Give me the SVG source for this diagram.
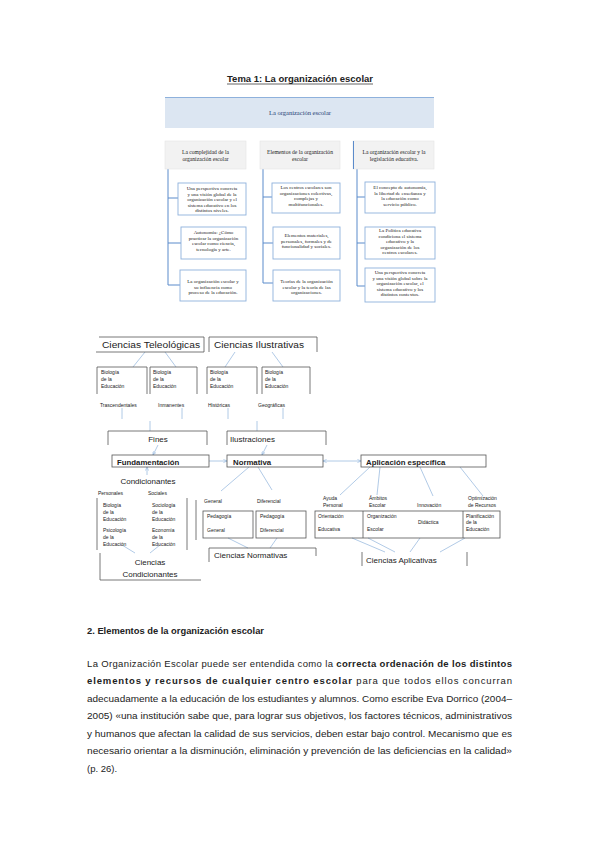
<svg xmlns="http://www.w3.org/2000/svg" width="599" height="848" viewBox="0 0 599 848">
<style>
.bg{fill:#ffffff}
.ser{font-family:"Liberation Serif","DejaVu Serif",serif;fill:#222}
.sans{font-family:"Liberation Sans","DejaVu Sans",sans-serif;fill:#222}
.hdr{fill:#f2f2f2;stroke:#e4e4e4;stroke-width:0.6}
.ibox{fill:#ffffff;stroke:#8eb1dc;stroke-width:0.9}
.tree{stroke:#5b8bcb;stroke-width:1;fill:none}
.frame{fill:none;stroke:#555;stroke-width:0.8}
.lc{stroke:#9dbde0;stroke-width:0.8;fill:none}
.tiny{font-size:5px}
.sm{font-size:5.6px}
</style>
<defs>
<marker id="ah" viewBox="0 0 10 10" refX="9" refY="5" markerWidth="5" markerHeight="5" orient="auto-start-reverse">
<path d="M0,1 L9,5 L0,9" fill="none" stroke="#8fb3dd" stroke-width="1.5"/>
</marker>
</defs>
<rect class="bg" x="0" y="0" width="599" height="848"/>

<g id="title">
<text class="sans" x="300" y="82" text-anchor="middle" font-size="9.5" font-weight="bold" textLength="146" lengthAdjust="spacingAndGlyphs">Tema 1: La organización escolar</text>
<line x1="227" y1="84" x2="373" y2="84" stroke="#222" stroke-width="0.7"/>
</g>

<g id="banner">
<rect x="165" y="97" width="269" height="31" fill="#dce6f2"/>
<line x1="165" y1="97.5" x2="434" y2="97.5" stroke="#8eb1dc" stroke-width="1"/>
<text class="ser" x="300" y="115" text-anchor="middle" font-size="6.5" style="fill:#1f3f73">La organización escolar</text>
</g>

<g id="tree-connectors">
<path class="tree" d="M168,169 V285 M168,198 H178 M168,243 H181 M168,285 H180"/>
<path class="tree" d="M263,169 V283 M263,197 H272 M263,243 H273 M263,283 H273"/>
<path class="tree" d="M357,169 V286 M357,197 H365 M357,243 H365 M357,286 H365"/>
</g>

<g id="col1-header">
<rect class="hdr" x="165" y="141" width="81" height="28"/>
<text class="ser sm" x="205.5" y="154" text-anchor="middle">La complejidad de la</text>
<text class="ser sm" x="205.5" y="161" text-anchor="middle">organización escolar</text>
</g>
<g id="col2-header">
<rect class="hdr" x="260" y="141" width="80" height="28"/>
<text class="ser sm" x="300" y="154" text-anchor="middle">Elementos de la organización</text>
<text class="ser sm" x="300" y="161" text-anchor="middle">escolar</text>
</g>
<g id="col3-header">
<rect class="hdr" x="353" y="141" width="81" height="28"/>
<line x1="353.5" y1="141" x2="353.5" y2="169" stroke="#5b8bcb" stroke-width="1"/>
<text class="ser sm" x="394" y="154" text-anchor="middle">La organización escolar y la</text>
<text class="ser sm" x="394" y="161" text-anchor="middle">legislación educativa.</text>
</g>

<g id="c1b1">
<rect class="ibox" x="178" y="183" width="68" height="32"/>
<text class="ser tiny" x="212" y="190" text-anchor="middle">Una perspectiva concreta</text>
<text class="ser tiny" x="212" y="195.5" text-anchor="middle">y una visión global de la</text>
<text class="ser tiny" x="212" y="201" text-anchor="middle">organización escolar y el</text>
<text class="ser tiny" x="212" y="206.5" text-anchor="middle">sistema educativo en los</text>
<text class="ser tiny" x="212" y="212" text-anchor="middle">distintos niveles.</text>
</g>
<g id="c1b2">
<rect class="ibox" x="181" y="227" width="65" height="32"/>
<text class="ser tiny" x="213.5" y="234" text-anchor="middle">Autonomía: ¿Cómo</text>
<text class="ser tiny" x="213.5" y="239.5" text-anchor="middle">practicar la organización</text>
<text class="ser tiny" x="213.5" y="245" text-anchor="middle">escolar como ciencia,</text>
<text class="ser tiny" x="213.5" y="250.5" text-anchor="middle">tecnología y arte.</text>
</g>
<g id="c1b3">
<rect class="ibox" x="180" y="270" width="66" height="31"/>
<text class="ser tiny" x="213" y="283" text-anchor="middle">La organización escolar y</text>
<text class="ser tiny" x="213" y="288.5" text-anchor="middle">su influencia como</text>
<text class="ser tiny" x="213" y="294" text-anchor="middle">proceso de la educación.</text>
</g>

<g id="c2b1">
<rect class="ibox" x="272" y="183" width="68" height="30"/>
<text class="ser tiny" x="306" y="189" text-anchor="middle">Los centros escolares son</text>
<text class="ser tiny" x="306" y="194.5" text-anchor="middle">organizaciones colectivas,</text>
<text class="ser tiny" x="306" y="200" text-anchor="middle">complejas y</text>
<text class="ser tiny" x="306" y="205.5" text-anchor="middle">multifuncionales.</text>
</g>
<g id="c2b2">
<rect class="ibox" x="273" y="227" width="67" height="32"/>
<text class="ser tiny" x="306.5" y="237" text-anchor="middle">Elementos materiales,</text>
<text class="ser tiny" x="306.5" y="242.5" text-anchor="middle">personales, formales y de</text>
<text class="ser tiny" x="306.5" y="248" text-anchor="middle">funcionalidad y sociales.</text>
</g>
<g id="c2b3">
<rect class="ibox" x="273" y="270" width="67" height="31"/>
<text class="ser tiny" x="306.5" y="283" text-anchor="middle">Teorías de la organización</text>
<text class="ser tiny" x="306.5" y="288.5" text-anchor="middle">escolar y la teoría de las</text>
<text class="ser tiny" x="306.5" y="294" text-anchor="middle">organizaciones.</text>
</g>

<g id="c3b1">
<rect class="ibox" x="365" y="182" width="70" height="31"/>
<text class="ser tiny" x="400" y="189" text-anchor="middle">El concepto de autonomía,</text>
<text class="ser tiny" x="400" y="194.5" text-anchor="middle">la libertad de enseñanza y</text>
<text class="ser tiny" x="400" y="200" text-anchor="middle">la educación como</text>
<text class="ser tiny" x="400" y="205.5" text-anchor="middle">servicio público.</text>
</g>
<g id="c3b2">
<rect class="ibox" x="365" y="227" width="70" height="32"/>
<text class="ser tiny" x="400" y="232" text-anchor="middle">La Política educativa</text>
<text class="ser tiny" x="400" y="237.5" text-anchor="middle">condiciona el sistema</text>
<text class="ser tiny" x="400" y="243" text-anchor="middle">educativo y la</text>
<text class="ser tiny" x="400" y="248.5" text-anchor="middle">organización de los</text>
<text class="ser tiny" x="400" y="254" text-anchor="middle">centros escolares.</text>
</g>
<g id="c3b3">
<rect class="ibox" x="365" y="268" width="70" height="34"/>
<text class="ser tiny" x="400" y="274" text-anchor="middle">Una perspectiva concreta</text>
<text class="ser tiny" x="400" y="279.5" text-anchor="middle">y una visión global sobre la</text>
<text class="ser tiny" x="400" y="285" text-anchor="middle">organización escolar, el</text>
<text class="ser tiny" x="400" y="290.5" text-anchor="middle">sistema educativo y los</text>
<text class="ser tiny" x="400" y="296" text-anchor="middle">distintos contextos.</text>
</g>

<g id="connectors">
<path class="lc" d="M145,352 L133,367 M165,352 L176,367 M235,352 L225,367 M272,352 L283,367"/>
<path class="lc" d="M122,408 V419 M150,421 V431 M182,408 V419 M228,408 V419 M257,421 V431 M283,408 V419"/>
<line class="lc" x1="158" y1="445" x2="153" y2="455" marker-end="url(#ah)"/>
<line class="lc" x1="267" y1="445" x2="262" y2="455" marker-end="url(#ah)"/>
<line class="lc" x1="209" y1="461" x2="227" y2="461" marker-end="url(#ah)"/>
<line class="lc" x1="323" y1="461" x2="361" y2="461" marker-start="url(#ah)" marker-end="url(#ah)"/>
<line class="lc" x1="147" y1="475" x2="147" y2="467" marker-end="url(#ah)"/>
<path class="lc" d="M249,467 L221,491 M258,467 L272,490"/>
<path class="lc" d="M370,467 L340,495 M380,467 L377,495 M420,467 L433,496 M460,467 L483,496"/>
<path class="lc" d="M228,538 L248,548 M277,538 L270,548"/>
<path class="lc" d="M352,538 L385,552 M368,538 L395,552 M420,538 L410,552 M465,538 L440,552"/>
<path class="lc" d="M122,545 L135,553 M160,545 L150,553"/>
</g>

<g id="teleologicas">
<path class="frame" d="M99,337 H204 V352 H96"/>
<text class="sans" x="102" y="348" font-size="8.5" textLength="98" lengthAdjust="spacingAndGlyphs">Ciencias Teleológicas</text>
</g>
<g id="ilustrativas">
<path class="frame" d="M209,352 V337 H317 V352"/>
<text class="sans" x="214" y="348" font-size="8.5" textLength="90" lengthAdjust="spacingAndGlyphs">Ciencias Ilustrativas</text>
</g>

<g id="bio1">
<path class="frame" d="M97,394 V367 H147 V394"/>
<text class="sans tiny" x="101" y="374">Biología</text>
<text class="sans tiny" x="101" y="381">de la</text>
<text class="sans tiny" x="101" y="388">Educación</text>
</g>
<g id="bio2">
<path class="frame" d="M150,394 V367 H197 V394"/>
<text class="sans tiny" x="153" y="374">Biología</text>
<text class="sans tiny" x="153" y="381">de la</text>
<text class="sans tiny" x="153" y="388">Educación</text>
</g>
<g id="bio3">
<path class="frame" d="M207,394 V367 H257 V394"/>
<text class="sans tiny" x="210" y="374">Biología</text>
<text class="sans tiny" x="210" y="381">de la</text>
<text class="sans tiny" x="210" y="388">Educación</text>
</g>
<g id="bio4">
<path class="frame" d="M262,394 V367 H310 V394"/>
<text class="sans tiny" x="265" y="374">Biología</text>
<text class="sans tiny" x="265" y="381">de la</text>
<text class="sans tiny" x="265" y="388">Educación</text>
</g>

<g id="labels-top">
<text class="sans tiny" x="100" y="407">Trascendentales</text>
<text class="sans tiny" x="158" y="407">Inmanentes</text>
<text class="sans tiny" x="208" y="407">Históricas</text>
<text class="sans tiny" x="258" y="407">Geográficas</text>
</g>

<g id="fines">
<path class="frame" d="M108,445 V431 H207 V445"/>
<text class="sans" x="158" y="441.5" font-size="8" text-anchor="middle">Fines</text>
</g>
<g id="ilustraciones">
<path class="frame" d="M227,445 V431 H326 V445"/>
<text class="sans" x="230" y="441.5" font-size="8">Ilustraciones</text>
</g>

<g id="fundamentacion">
<rect class="frame" x="112" y="455" width="97" height="12" style="fill:#fff"/>
<text class="sans" x="117" y="464.5" font-size="7.8" font-weight="bold">Fundamentación</text>
</g>
<g id="normativa">
<rect class="frame" x="227" y="455" width="96" height="12" style="fill:#fff"/>
<text class="sans" x="233" y="464.5" font-size="7.8" font-weight="bold">Normativa</text>
</g>
<g id="aplicacion">
<rect class="frame" x="361" y="455" width="125" height="12" style="fill:#fff"/>
<text class="sans" x="366" y="464.5" font-size="7.8" font-weight="bold">Aplicación específica</text>
</g>

<g id="condicionantes">
<text class="sans" x="148" y="484" font-size="8" text-anchor="middle">Condicionantes</text>
<text class="sans tiny" x="98" y="495">Personales</text>
<text class="sans tiny" x="148" y="495">Sociales</text>
<path class="frame" d="M97,498 V550 M187,498 V550"/>
<text class="sans tiny" x="103" y="507">Biología</text>
<text class="sans tiny" x="103" y="514">de la</text>
<text class="sans tiny" x="103" y="521">Educación</text>
<text class="sans tiny" x="103" y="532">Psicología</text>
<text class="sans tiny" x="103" y="539">de la</text>
<text class="sans tiny" x="103" y="546">Educación</text>
<text class="sans tiny" x="152" y="507">Sociología</text>
<text class="sans tiny" x="152" y="514">de la</text>
<text class="sans tiny" x="152" y="521">Educación</text>
<text class="sans tiny" x="152" y="532">Economía</text>
<text class="sans tiny" x="152" y="539">de la</text>
<text class="sans tiny" x="152" y="546">Educación</text>
</g>
<g id="ciencias-condicionantes">
<path class="frame" d="M100,553 V580 H201"/>
<text class="sans" x="150" y="565" font-size="8" text-anchor="middle">Ciencias</text>
<text class="sans" x="150" y="577" font-size="8" text-anchor="middle">Condicionantes</text>
</g>

<line class="frame" x1="196" y1="500" x2="196" y2="540"/>

<g id="normativas-labels">
<text class="sans tiny" x="204" y="503">General</text>
<text class="sans tiny" x="257" y="503">Diferencial</text>
</g>
<g id="ped-general">
<rect class="frame" x="203" y="511" width="50" height="27"/>
<text class="sans tiny" x="207" y="518">Pedagogía</text>
<text class="sans tiny" x="207" y="532">General</text>
</g>
<g id="ped-diferencial">
<rect class="frame" x="256" y="511" width="50" height="27"/>
<text class="sans tiny" x="260" y="518">Pedagogía</text>
<text class="sans tiny" x="260" y="532">Diferencial</text>
</g>
<g id="ciencias-normativas">
<path class="frame" d="M209,562 V548 H316 V556"/>
<text class="sans" x="214" y="558" font-size="8">Ciencias  Normativas</text>
</g>

<g id="aplicativas-labels">
<text class="sans tiny" x="323" y="500">Ayuda</text>
<text class="sans tiny" x="323" y="507">Personal</text>
<text class="sans tiny" x="369" y="500">Ámbitos</text>
<text class="sans tiny" x="369" y="507">Escolar</text>
<text class="sans tiny" x="417" y="507">Innovación</text>
<text class="sans tiny" x="468" y="500">Optimización</text>
<text class="sans tiny" x="468" y="507">de Recursos</text>
</g>
<g id="aplicativas-box">
<rect class="frame" x="315" y="511" width="185" height="27"/>
<line class="frame" x1="363" y1="511" x2="363" y2="538"/>
<line class="frame" x1="463" y1="511" x2="463" y2="538"/>
<text class="sans tiny" x="318" y="518">Orientación</text>
<text class="sans tiny" x="318" y="531">Educativa</text>
<text class="sans tiny" x="367" y="518">Organización</text>
<text class="sans tiny" x="367" y="531">Escolar</text>
<text class="sans tiny" x="418" y="524">Didáctica</text>
<text class="sans tiny" x="466" y="518">Planificación</text>
<text class="sans tiny" x="466" y="524">de la</text>
<text class="sans tiny" x="466" y="531">Educación</text>
</g>
<g id="ciencias-aplicativas">
<path class="frame" d="M362,566 V552 M467,552 V566"/>
<text class="sans" x="366" y="563" font-size="8">Ciencias  Aplicativas</text>
</g>

<g id="body">
<text class="sans" x="87" y="634" font-size="9.5" font-weight="bold" textLength="177" lengthAdjust="spacingAndGlyphs">2. Elementos de la organización escolar</text>
<text class="sans" x="87" y="666.5" font-size="9.5" textLength="425" lengthAdjust="spacing">La Organización Escolar puede ser entendida como la <tspan font-weight="bold">correcta ordenación de los distintos</tspan></text>
<text class="sans" x="87" y="684" font-size="9.5" textLength="425" lengthAdjust="spacing"><tspan font-weight="bold">elementos y recursos de cualquier centro escolar</tspan> para que todos ellos concurran</text>
<text class="sans" x="87" y="701.5" font-size="9.5" textLength="425" lengthAdjust="spacingAndGlyphs">adecuadamente a la educación de los estudiantes y alumnos. Como escribe Eva Dorrico (2004–</text>
<text class="sans" x="87" y="719" font-size="9.5" textLength="425" lengthAdjust="spacingAndGlyphs">2005) «una institución sabe que, para lograr sus objetivos, los factores técnicos, administrativos</text>
<text class="sans" x="87" y="736.5" font-size="9.5" textLength="425" lengthAdjust="spacingAndGlyphs">y humanos que afectan la calidad de sus servicios, deben estar bajo control. Mecanismo que es</text>
<text class="sans" x="87" y="754" font-size="9.5" textLength="425" lengthAdjust="spacingAndGlyphs">necesario orientar a la disminución, eliminación y prevención de las deficiencias en la calidad»</text>
<text class="sans" x="87" y="771.5" font-size="9.5">(p. 26).</text>
</g>
</svg>
